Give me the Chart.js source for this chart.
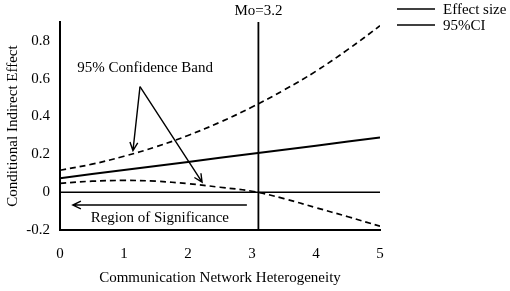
<!DOCTYPE html>
<html lang="en">
<head>
<meta charset="UTF-8">
<title>Conditional Indirect Effect</title>
<script src="https://cdn.jsdelivr.net/npm/chart.js@4/dist/chart.umd.min.js"></script>
<style>
  html, body { margin: 0; padding: 0; background: #fff; }
  #wrap { width: 510px; height: 291px; position: relative; }
</style>
</head>
<body>
<div id="wrap"><canvas id="chart"></canvas></div>
<script>
  // values
  const xValues = [0, 0.5, 1, 1.5, 2, 2.5, 3, 3.5, 4, 4.5, 5];
  const effectSize = [0.074, 0.096, 0.117, 0.139, 0.160, 0.182, 0.203, 0.225, 0.246, 0.268, 0.289];
  const upperCI = [0.116, 0.148, 0.19, 0.24, 0.30, 0.37, 0.45, 0.54, 0.64, 0.755, 0.88];
  const lowerCI = [0.047, 0.058, 0.062, 0.058, 0.045, 0.026, 0.005, -0.034, -0.082, -0.13, -0.18];
  const xTicks = [0, 1, 2, 3, 4, 5];
  const yTicks = [-0.2, 0, 0.2, 0.4, 0.6, 0.8];
  const moderatorValue = 3.1;   // where the line sits in the figure
  const moderatorLabel = 'Mo=3.2';
  const legendLabels = ['Effect size', '95%CI'];

  const FONT = '15px "Liberation Serif", "Times New Roman", serif';

  const pts = ys => xValues.map((x, i) => ({ x: x, y: ys[i] }));

  // arrows / labels, in data units
  const bandLabel = { text: '95% Confidence Band', x: 1.33, y: 0.658 };
  const bandArrows = [
    { from: [1.25, 0.558], to: [1.14, 0.22] },
    { from: [1.25, 0.558], to: [2.22, 0.053] }
  ];
  const regionLabel = { text: 'Region of Significance', x: 1.56, y: -0.137 };
  const regionArrow = { from: [2.92, -0.068], to: [0.2, -0.068] };

  function arrow(ctx, x1, y1, x2, y2) {
    const a = Math.atan2(y2 - y1, x2 - x1);
    const len = 9, spread = 0.45;
    ctx.beginPath();
    ctx.moveTo(x1, y1);
    ctx.lineTo(x2, y2);
    ctx.moveTo(x2 - len * Math.cos(a - spread), y2 - len * Math.sin(a - spread));
    ctx.lineTo(x2, y2);
    ctx.lineTo(x2 - len * Math.cos(a + spread), y2 - len * Math.sin(a + spread));
    ctx.stroke();
  }

  const extras = {
    id: 'extras',
    afterDraw(chart) {
      const { ctx, chartArea, scales: { x, y } } = chart;
      ctx.save();
      ctx.strokeStyle = '#000';
      ctx.fillStyle = '#000';
      ctx.font = FONT;
      ctx.lineWidth = 1.4;
      ctx.setLineDash([]);

      // moderator label
      ctx.textAlign = 'center';
      ctx.textBaseline = 'middle';
      ctx.fillText(moderatorLabel, x.getPixelForValue(moderatorValue), 11);

      // confidence band note
      ctx.fillText(bandLabel.text, x.getPixelForValue(bandLabel.x), y.getPixelForValue(bandLabel.y));
      bandArrows.forEach(a => arrow(ctx,
        x.getPixelForValue(a.from[0]), y.getPixelForValue(a.from[1]),
        x.getPixelForValue(a.to[0]), y.getPixelForValue(a.to[1])));

      // region of significance
      ctx.fillText(regionLabel.text, x.getPixelForValue(regionLabel.x), y.getPixelForValue(regionLabel.y));
      arrow(ctx,
        x.getPixelForValue(regionArrow.from[0]), y.getPixelForValue(regionArrow.from[1]),
        x.getPixelForValue(regionArrow.to[0]), y.getPixelForValue(regionArrow.to[1]));

      // legend (both entries drawn as solid lines, as in the figure)
      ctx.textAlign = 'left';
      ctx.lineWidth = 1.6;
      legendLabels.forEach((lab, i) => {
        const ly = 9 + i * 16;
        ctx.beginPath();
        ctx.moveTo(chartArea.right + 17, ly);
        ctx.lineTo(chartArea.right + 55, ly);
        ctx.stroke();
        ctx.fillText(lab, chartArea.right + 63, ly + 1);
      });
      ctx.restore();
    }
  };

  new Chart(document.getElementById('chart'), {
    type: 'line',
    data: {
      datasets: [
        { label: 'Effect size', data: pts(effectSize), borderColor: '#000', borderWidth: 2, pointRadius: 0, tension: 0 },
        { label: '95%CI upper', data: pts(upperCI), borderColor: '#000', borderWidth: 1.7, borderDash: [6, 4], pointRadius: 0, tension: 0.4 },
        { label: '95%CI lower', data: pts(lowerCI), borderColor: '#000', borderWidth: 1.7, borderDash: [6, 4], pointRadius: 0, tension: 0.4 },
        { label: 'zero', data: [{ x: 0, y: 0 }, { x: 5, y: 0 }], borderColor: '#000', borderWidth: 1.5, pointRadius: 0 },
        { label: 'Mo', data: [{ x: moderatorValue, y: -0.2 }, { x: moderatorValue, y: 0.9 }], borderColor: '#000', borderWidth: 1.8, pointRadius: 0 }
      ]
    },
    options: {
      responsive: true,
      maintainAspectRatio: false,
      animation: false,
      layout: { padding: { left: 0, right: 130, top: 22, bottom: 0 } },
      plugins: { legend: { display: false }, tooltip: { enabled: false } },
      scales: {
        x: {
          type: 'linear', min: 0, max: 5,
          grid: { display: false },
          border: { display: true, color: '#000', width: 2 },
          afterBuildTicks: s => { s.ticks = xTicks.map(v => ({ value: v })); },
          afterFit: s => { s.height = 61; },
          ticks: { color: '#000', font: { family: '"Liberation Serif", serif', size: 15 }, padding: 7 },
          title: { display: true, text: 'Communication Network Heterogeneity', color: '#000',
                   font: { family: '"Liberation Serif", serif', size: 15 }, padding: { top: 0, bottom: 4 } }
        },
        y: {
          min: -0.2, max: 0.9,
          grid: { display: false },
          border: { display: true, color: '#000', width: 2 },
          afterBuildTicks: s => { s.ticks = yTicks.map(v => ({ value: v })); },
          afterFit: s => { s.width = 60; },
          ticks: { color: '#000', font: { family: '"Liberation Serif", serif', size: 15 }, padding: 2,
                   callback: v => String(Math.round(v * 10) / 10) },
          title: { display: true, text: 'Conditional Indirect Effect', color: '#000',
                   font: { family: '"Liberation Serif", serif', size: 15 }, padding: { top: 4, bottom: 0 } }
        }
      }
    },
    plugins: [extras]
  });
</script>
</body>
</html>
